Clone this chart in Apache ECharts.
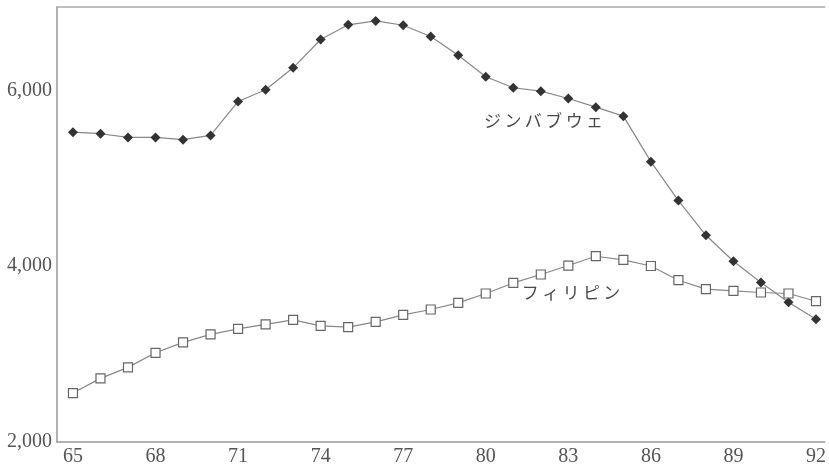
<!DOCTYPE html>
<html>
<head>
<meta charset="utf-8">
<script src="https://cdn.jsdelivr.net/npm/echarts@6/dist/echarts.min.js"></script>
<style>html,body{margin:0;padding:0;background:#fff;}#c{width:829px;height:467px;}</style>
</head>
<body>
<div id="c"></div>
<script>
const years = [65,66,67,68,69,70,71,72,73,74,75,76,77,78,79,80,81,82,83,84,85,86,87,88,89,90,91,92];
const zimbabwe = [5526,5508,5466,5466,5440,5489,5875,6008,6258,6580,6747,6792,6742,6614,6401,6156,6031,5992,5909,5810,5708,5190,4747,4352,4057,3815,3591,3398];
const philippines = [2557,2724,2849,3015,3133,3224,3288,3338,3390,3322,3307,3367,3447,3508,3583,3690,3810,3906,4008,4114,4072,4003,3841,3739,3720,3701,3690,3602];
const xTickLabels = [65,68,71,74,77,80,83,86,89,92];
const yTickLabels = [2000,4000,6000];
const seriesNames = ['ジンバブウェ','フィリピン'];
const nameAnchors = [[82.1,5659],[83.1,3697]];

const chart = echarts.init(document.getElementById('c'), null, {renderer:'canvas'});
const serif = 'Liberation Serif';
const spaced = s => s.split('').join('\u2009');
chart.setOption({
  animation:false,
  grid:{left:57, right:0, top:7, bottom:25},
  xAxis:[{
    type:'value', min:64.42, max:92.32,
    axisLine:{show:true, lineStyle:{color:'#999', width:1.5}},
    axisTick:{show:false},
    splitLine:{show:false},
    axisLabel:{customValues:xTickLabels, margin:5, fontFamily:serif, fontSize:20, color:'#555',
      formatter:v=>String(v)}
  },{
    type:'value', position:'top', min:64.42, max:92.32,
    axisLine:{show:true, lineStyle:{color:'#aaa', width:1.5}},
    axisTick:{show:false}, axisLabel:{show:false}, splitLine:{show:false}
  }],
  yAxis:{
    type:'value', min:2000, max:6950,
    axisLine:{show:true, lineStyle:{color:'#999', width:1.5}},
    axisTick:{show:false},
    splitLine:{show:false},
    axisLabel:{customValues:yTickLabels, margin:5, fontFamily:serif, fontSize:20, color:'#555',
      formatter:v=>v.toLocaleString('en-US')}
  },
  series:[{
    name:seriesNames[0], type:'line',
    data:years.map((y,i)=>[y,zimbabwe[i]]),
    symbol:'diamond', symbolSize:10,
    lineStyle:{color:'#888', width:1.2},
    itemStyle:{color:'#333', borderColor:'#333', borderWidth:0}
  },{
    name:seriesNames[1], type:'line',
    data:years.map((y,i)=>[y,philippines[i]]),
    symbol:'rect', symbolSize:9,
    lineStyle:{color:'#888', width:1.2},
    itemStyle:{color:'#fff', borderColor:'#666', borderWidth:1.2}
  }]
});
const labels = seriesNames.map((n,i)=>{
  const p = chart.convertToPixel({xAxisIndex:0, yAxisIndex:0}, nameAnchors[i]);
  return {type:'text', x:p[0], y:p[1], silent:true,
    style:{text:spaced(n), fontFamily:'Noto Sans CJK JP', fontWeight:'normal', fontSize:17, fill:'#4a4a4a', align:'center', verticalAlign:'middle'}};
});
chart.setOption({graphic:labels});
</script>
</body>
</html>
